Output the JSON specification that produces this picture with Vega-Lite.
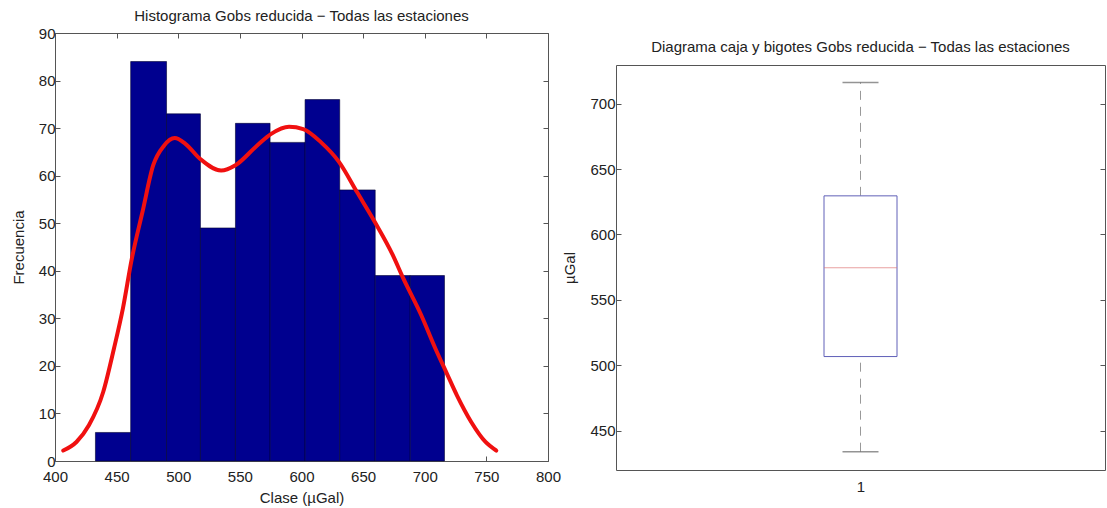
{
  "$schema": "https://vega.github.io/schema/vega-lite/v6.json",
  "padding": {"left": 10, "top": 8, "right": 0, "bottom": 0},
  "background": "white",
  "spacing": 0,
  "config": {
    "font": "Liberation Sans",
    "view": {"stroke": "#555", "strokeWidth": 1},
    "axis": {
      "domain": false, "grid": false, "tickColor": "#555", "tickSize": -5, "tickWidth": 1, "labelFlush": false,
      "labelFont": "Liberation Sans", "labelFontSize": 15, "labelColor": "#222",
      "titleFont": "Liberation Sans", "titleFontSize": 15, "titleFontWeight": "normal", "titleColor": "#222"
    },
    "title": {"font": "Liberation Sans", "fontSize": 15, "fontWeight": "normal", "color": "#222"}
  },
  "datasets": {
    "bins": [
      {"x0": 432.8, "x1": 461.4, "count": 6},
      {"x0": 461.4, "x1": 490.5, "count": 84},
      {"x0": 490.5, "x1": 518.0, "count": 73},
      {"x0": 518.0, "x1": 546.4, "count": 49},
      {"x0": 546.4, "x1": 574.5, "count": 71},
      {"x0": 574.5, "x1": 602.9, "count": 67},
      {"x0": 602.9, "x1": 631.0, "count": 76},
      {"x0": 631.0, "x1": 659.8, "count": 57},
      {"x0": 659.8, "x1": 688.2, "count": 39},
      {"x0": 688.2, "x1": 716.0, "count": 39}
    ],
    "curve": [
      {"x": 406.7, "y": 2.2}, {"x": 417.4, "y": 4.0}, {"x": 427.5, "y": 7.5}, {"x": 439.1, "y": 14.5},
      {"x": 447.8, "y": 23.6}, {"x": 455.1, "y": 32.1}, {"x": 462.3, "y": 42.5}, {"x": 471.0, "y": 52.4},
      {"x": 479.7, "y": 62.2}, {"x": 488.4, "y": 66.3}, {"x": 497.1, "y": 67.9}, {"x": 505.8, "y": 66.7},
      {"x": 517.4, "y": 63.6}, {"x": 534.8, "y": 61.1}, {"x": 546.4, "y": 62.2}, {"x": 563.8, "y": 66.3},
      {"x": 575.4, "y": 68.8}, {"x": 589.9, "y": 70.3}, {"x": 601.4, "y": 69.8}, {"x": 615.9, "y": 67.0},
      {"x": 630.4, "y": 62.9}, {"x": 644.9, "y": 56.6}, {"x": 659.4, "y": 50.3}, {"x": 673.9, "y": 43.4},
      {"x": 682.6, "y": 38.4}, {"x": 697.1, "y": 30.7}, {"x": 708.7, "y": 23.6}, {"x": 717.4, "y": 18.7},
      {"x": 726.1, "y": 13.8}, {"x": 737.7, "y": 8.2}, {"x": 749.3, "y": 4.0}, {"x": 758.0, "y": 2.2}
    ],
    "box": [
      {"cat": 1, "lo": 434.0, "q1": 506.7, "med": 574.6, "q3": 629.5, "hi": 716.2}
    ]
  },
  "hconcat": [
    {
      "width": 493,
      "height": 428,
      "title": {"text": "Histograma Gobs reducida − Todas las estaciones", "baseline": "bottom", "offset": -13},
      "layer": [
        {
          "data": {"name": "bins"},
          "mark": {"type": "rect", "fill": "#00008F", "stroke": "#000033", "strokeWidth": 0.6},
          "encoding": {
            "x": {"field": "x0", "type": "quantitative", "scale": {"domain": [400, 800], "nice": false},
                  "axis": {"orient": "bottom", "values": [400, 450, 500, 550, 600, 650, 700, 750, 800], "title": "Clase (µGal)", "labelPadding": 13, "titlePadding": 6}},
            "x2": {"field": "x1"},
            "y": {"field": "count", "type": "quantitative", "scale": {"domain": [0, 90], "nice": false},
                  "axis": {"orient": "left", "values": [0, 10, 20, 30, 40, 50, 60, 70, 80, 90], "title": "Frecuencia", "labelPadding": 5, "titlePadding": 12}},
            "y2": {"datum": 0}
          }
        },
        {
          "data": {"name": "curve"},
          "mark": {"type": "line", "color": "#F01010", "strokeWidth": 4, "interpolate": "monotone", "strokeCap": "round"},
          "encoding": {
            "x": {"field": "x", "type": "quantitative", "axis": null},
            "y": {"field": "y", "type": "quantitative", "axis": null}
          }
        },
        {
          "data": {"name": "bins"},
          "mark": {"type": "point", "opacity": 0},
          "encoding": {
            "x": {"field": "x0", "type": "quantitative",
                  "axis": {"orient": "top", "values": [400, 450, 500, 550, 600, 650, 700, 750, 800], "labels": false, "title": null}},
            "y": {"field": "count", "type": "quantitative",
                  "axis": {"orient": "right", "values": [0, 10, 20, 30, 40, 50, 60, 70, 80, 90], "labels": false, "title": null}}
          }
        }
      ],
      "resolve": {"axis": {"x": "independent", "y": "independent"}}
    },
    {
      "spacing": 5,
      "vconcat": [
        {
          "width": 489,
          "height": 1,
          "view": {"stroke": null},
          "data": {"values": [{}]},
          "mark": {"type": "point", "size": 0, "opacity": 0}
        },
        {
          "width": 489,
          "height": 405,
          "title": {"text": "Diagrama caja y bigotes Gobs reducida − Todas las estaciones", "baseline": "bottom", "offset": -4.5},
          "data": {"name": "box"},
          "layer": [
            {
              "mark": {"type": "rule", "color": "#999", "strokeWidth": 1, "strokeDash": [9, 7]},
              "encoding": {
                "x": {"field": "cat", "type": "quantitative", "scale": {"domain": [0.5, 1.5], "nice": false},
                      "axis": {"orient": "bottom", "values": [1], "format": "d", "ticks": false, "title": null, "labelPadding": 9}},
                "y": {"field": "q3", "type": "quantitative", "scale": {"domain": [420, 729.5], "nice": false},
                      "axis": {"orient": "left", "values": [450, 500, 550, 600, 650, 700], "title": "µGal", "labelPadding": 6, "titlePadding": 12}},
                "y2": {"field": "hi"}
              }
            },
            {
              "mark": {"type": "rule", "color": "#999", "strokeWidth": 1, "strokeDash": [9, 7]},
              "encoding": {
                "x": {"field": "cat", "type": "quantitative"},
                "y": {"field": "lo", "type": "quantitative", "axis": null},
                "y2": {"field": "q1"}
              }
            },
            {
              "mark": {"type": "tick", "orient": "horizontal", "color": "#666", "size": 36, "thickness": 1.5},
              "encoding": {
                "x": {"field": "cat", "type": "quantitative"},
                "y": {"field": "hi", "type": "quantitative", "axis": null}
              }
            },
            {
              "mark": {"type": "tick", "orient": "horizontal", "color": "#666", "size": 36, "thickness": 1.5},
              "encoding": {
                "x": {"field": "cat", "type": "quantitative"},
                "y": {"field": "lo", "type": "quantitative", "axis": null}
              }
            },
            {
              "mark": {"type": "bar", "orient": "vertical", "size": 73, "fill": "white", "stroke": "#6060B8", "strokeWidth": 1},
              "encoding": {
                "x": {"field": "cat", "type": "quantitative"},
                "y": {"field": "q1", "type": "quantitative", "axis": null},
                "y2": {"field": "q3"}
              }
            },
            {
              "mark": {"type": "tick", "orient": "horizontal", "color": "#E07878", "size": 73, "thickness": 1},
              "encoding": {
                "x": {"field": "cat", "type": "quantitative"},
                "y": {"field": "med", "type": "quantitative", "axis": null}
              }
            },
            {
              "mark": {"type": "point", "opacity": 0},
              "encoding": {
                "x": {"field": "cat", "type": "quantitative"},
                "y": {"field": "med", "type": "quantitative",
                      "axis": {"orient": "right", "values": [450, 500, 550, 600, 650, 700], "labels": false, "title": null}}
              }
            }
          ],
          "resolve": {"axis": {"y": "independent"}}
        }
      ]
    }
  ]
}
